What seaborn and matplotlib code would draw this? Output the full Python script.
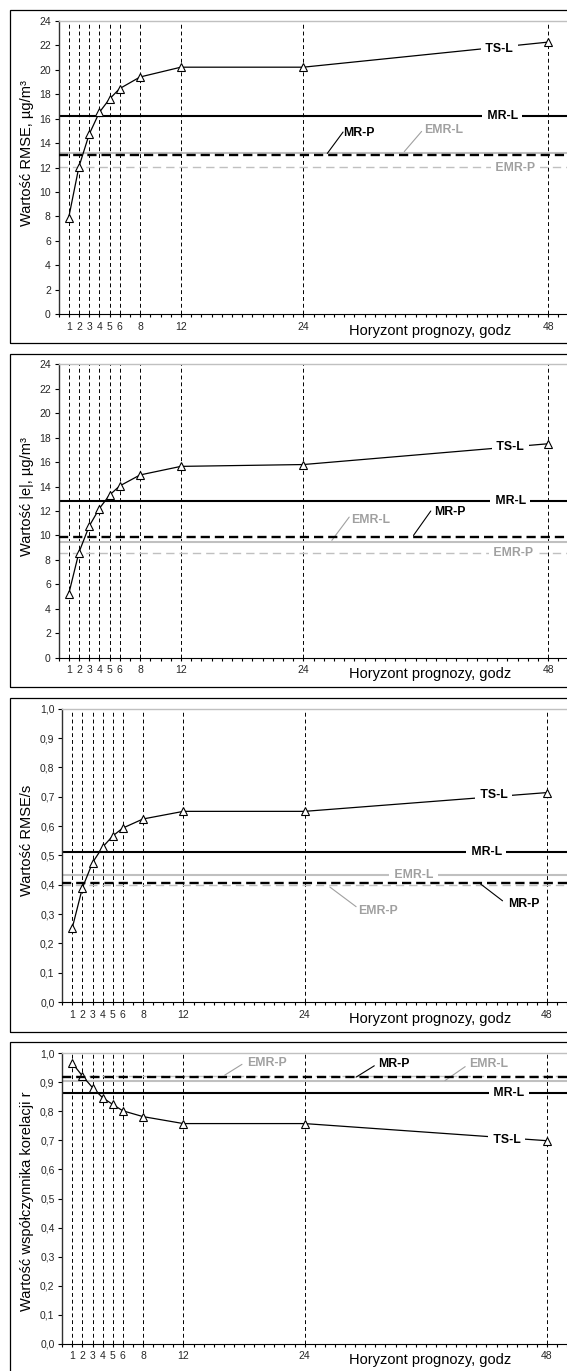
import numpy as np
import pandas as pd
import seaborn as sns
import matplotlib.pyplot as plt
from matplotlib.patches import Rectangle
from matplotlib.ticker import MultipleLocator, FixedLocator

# forecast horizons (hours) shared by all four panels
hours = [1, 2, 3, 4, 5, 6, 8, 12, 24, 48]
hour_labels = [str(h) for h in hours]

# panel 1: RMSE, ug/m3
rmse_ts_l = [7.9, 12.05, 14.7, 16.5, 17.6, 18.45, 19.4, 20.2, 20.2, 22.25]
rmse_mr_l = 16.2
rmse_mr_p = 13.0
rmse_emr_l = 13.22
rmse_emr_p = 12.07

# panel 2: mean absolute error |e|, ug/m3
abs_ts_l = [5.2, 8.6, 10.75, 12.2, 13.3, 14.05, 14.95, 15.65, 15.8, 17.5]
abs_mr_l = 12.85
abs_mr_p = 9.85
abs_emr_l = 9.5
abs_emr_p = 8.6

# panel 3: RMSE/s
rel_ts_l = [0.253, 0.389, 0.475, 0.528, 0.566, 0.593, 0.624, 0.65, 0.65, 0.714]
rel_mr_l = 0.51
rel_mr_p = 0.406
rel_emr_l = 0.433
rel_emr_p = 0.399

# panel 4: correlation coefficient r
r_ts_l = [0.966, 0.922, 0.882, 0.847, 0.824, 0.802, 0.782, 0.758, 0.758, 0.699]
r_mr_l = 0.864
r_mr_p = 0.917
r_emr_l = 0.905
r_emr_p = 0.922

ticks_ug = list(range(0, 25, 2))
ticks_ug_labels = [str(t) for t in ticks_ug]
ticks_unit = [i / 10 for i in range(11)]
ticks_unit_labels = [f"{t:.1f}".replace(".", ",") for t in ticks_unit]

ylabels = ["Wartość RMSE, µg/m³", "Wartość |e|, µg/m³",
           "Wartość RMSE/s", "Wartość współczynnika korelacji r"]
xlabel = "Horyzont prognozy, godz"

sns.set_theme(style="white")
plt.rcParams["font.family"] = ["Liberation Sans", "DejaVu Sans"]

GRAY_LINE = "#c0c0c0"
GRAY_TEXT = "#a0a0a0"

W, H = 567, 1371
fig = plt.figure(figsize=(W / 100, H / 100), dpi=100)

# layout in pixels: axes left, axes top, axes bottom, px per hour, frame top, frame bottom, ylabel y
layout = [
    (58.5, 20.7, 314.3, 10.2, 10.0, 343.3, 0.55),
    (58.5, 364.3, 657.7, 10.2, 354.0, 687.3, 0.55),
    (62.2, 708.7, 1002.0, 10.1, 698.3, 1032.0, 0.55),
    (62.2, 1053.3, 1343.7, 10.1, 1042.3, 1380.0, 0.49),
]

panels = [
    (rmse_ts_l, rmse_mr_l, rmse_mr_p, rmse_emr_l, rmse_emr_p, 24, ticks_ug, ticks_ug_labels),
    (abs_ts_l, abs_mr_l, abs_mr_p, abs_emr_l, abs_emr_p, 24, ticks_ug, ticks_ug_labels),
    (rel_ts_l, rel_mr_l, rel_mr_p, rel_emr_l, rel_emr_p, 1.0, ticks_unit, ticks_unit_labels),
    (r_ts_l, r_mr_l, r_mr_p, r_emr_l, r_emr_p, 1.0, ticks_unit, ticks_unit_labels),
]

# series labels: text, x, y, gray?, on a line (white box)?, leader line
labels = [
    [("TS-L", 43.2, 21.7, False, True, None),
     ("MR-L", 43.5, 16.2, False, True, None),
     ("EMR-P", 44.8, 11.95, True, True, None),
     ("MR-P", 29.4, 14.85, False, False, ((27.9, 14.9), (26.35, 13.15))),
     ("EMR-L", 37.8, 15.1, True, False, ((35.6, 14.95), (33.9, 13.3)))],
    [("TS-L", 44.3, 17.2, False, True, None),
     ("MR-L", 44.3, 12.85, False, True, None),
     ("EMR-P", 44.6, 8.55, True, True, None),
     ("MR-P", 38.4, 11.94, False, False, ((36.5, 12.0), (34.8, 10.0))),
     ("EMR-L", 30.6, 11.26, True, False, ((28.5, 11.5), (26.8, 9.6)))],
    [("TS-L", 42.7, 0.706, False, True, None),
     ("MR-L", 42.0, 0.51, False, True, None),
     ("EMR-L", 34.8, 0.433, True, True, None),
     ("MR-P", 45.7, 0.334, False, False, ((43.6, 0.345), (41.4, 0.403))),
     ("EMR-P", 31.3, 0.31, True, False, ((29.1, 0.325), (26.5, 0.392)))],
    [("TS-L", 44.0, 0.703, False, True, None),
     ("MR-L", 44.2, 0.864, False, True, None),
     ("EMR-P", 20.3, 0.968, True, False, ((17.8, 0.962), (16.1, 0.925))),
     ("MR-P", 32.8, 0.963, False, False, ((30.9, 0.957), (29.1, 0.918))),
     ("EMR-L", 42.2, 0.963, True, False, ((39.9, 0.954), (37.9, 0.906)))],
]

for i, (ts, mr_l, mr_p, emr_l, emr_p, ymax, yt, ytl) in enumerate(panels):
    left, top, bottom, per_h, f_top, f_bot, ylab_y = layout[i]
    width = 50 * per_h
    height = bottom - top
    ax = fig.add_axes([left / W, 1 - bottom / H, width / W, height / H])

    # outer chart frame
    fig.add_artist(Rectangle((10 / W, 1 - f_bot / H), 580 / W, (f_bot - f_top) / H,
                             transform=fig.transFigure, fill=False, ec="black", lw=0.9))

    ax.vlines(hours, 0, ymax, colors="black", lw=0.7, linestyles=(0, (4, 3)), zorder=1.5)

    ax.axhline(emr_l, color=GRAY_LINE, lw=1.5, zorder=2)
    ax.axhline(emr_p, color=GRAY_LINE, lw=1.0, ls=(0, (6, 3.6)), zorder=2.1)
    ax.axhline(mr_l, color="black", lw=1.5, zorder=2.2)
    ax.axhline(mr_p, color="black", lw=1.7, ls=(0, (3.9, 2.1)), zorder=5)

    df = pd.DataFrame({"godz": hours, "wartosc": ts})
    sns.lineplot(data=df, x="godz", y="wartosc", ax=ax, color="black", lw=0.9,
                 marker="^", markersize=5.5, markerfacecolor="white",
                 markeredgecolor="black", markeredgewidth=0.8, zorder=3)

    for text, tx, ty, gray, on_line, leader in labels[i]:
        col = GRAY_TEXT if gray else "black"
        kw = {}
        if on_line:
            text = f" {text} "
            kw["bbox"] = dict(boxstyle="square,pad=0.12", fc="white", ec="none")
        ax.text(tx, ty, text, color=col, fontsize=8.8, fontweight="bold",
                ha="center", va="center", zorder=4, **kw)
        if leader is not None:
            (x1, y1), (x2, y2) = leader
            ax.plot([x1, x2], [y1, y2], color=col, lw=0.8, zorder=4)

    ax.set_xlim(0, 50)
    ax.set_ylim(0, ymax)
    ax.xaxis.set_major_locator(FixedLocator(hours))
    ax.set_xticklabels(hour_labels)
    ax.xaxis.set_minor_locator(MultipleLocator(1))
    ax.set_yticks(yt)
    ax.set_yticklabels(ytl)
    ax.tick_params(axis="x", which="both", direction="out", length=2.5, width=0.8,
                   color="black", bottom=True, labelsize=7.5, pad=3)
    ax.tick_params(axis="y", which="major", direction="out", length=3, width=0.8,
                   color="black", left=True, labelsize=7.5, pad=2.5)

    ax.spines["left"].set_color("#303030")
    ax.spines["left"].set_linewidth(1.0)
    ax.spines["bottom"].set_color("black")
    ax.spines["bottom"].set_linewidth(0.8)
    ax.spines["top"].set_color("#c0c0c0")
    ax.spines["top"].set_linewidth(1.0)
    ax.spines["right"].set_visible(False)

    ax.set_ylabel(ylabels[i], fontsize=10.5, color="black")
    ax.yaxis.set_label_coords((27 - left) / width, ylab_y)
    ax.yaxis.label.set_va("center")
    ax.set_xlabel(xlabel, fontsize=10.5, color="black")
    ax.xaxis.set_label_coords((430 - left) / width, -9.7 / height)

fig.savefig("out.png", dpi=100)
